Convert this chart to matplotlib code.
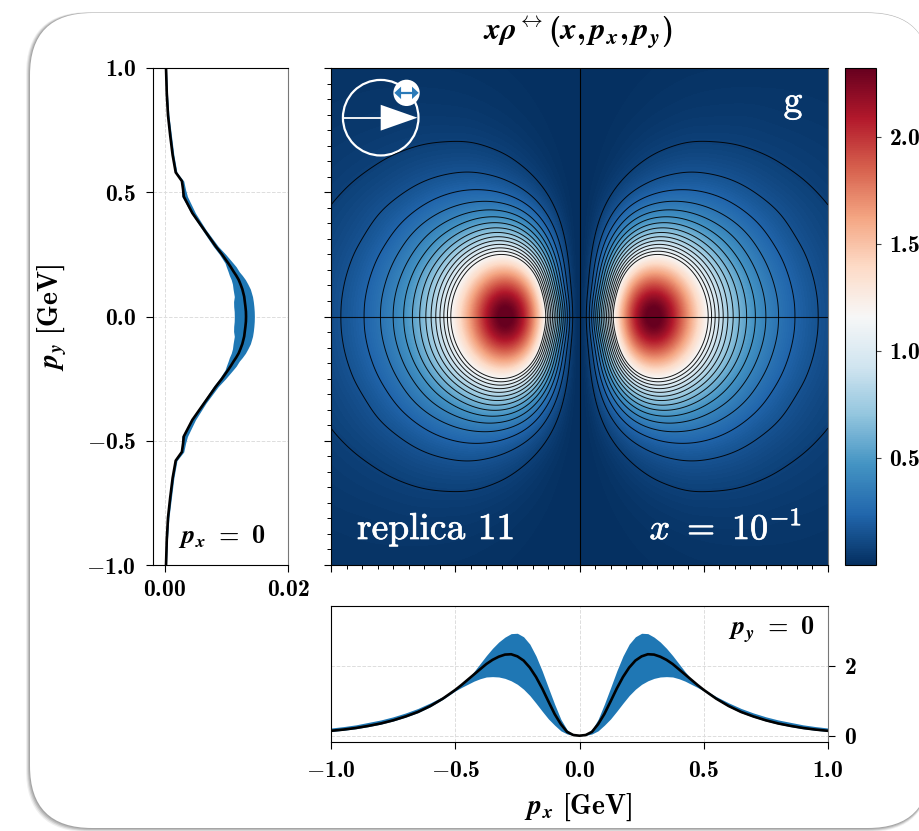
import numpy as np
import matplotlib
matplotlib.use("Agg")
import matplotlib.pyplot as plt
import matplotlib.tri as mtri
import matplotlib.patheffects as pe
from matplotlib.patches import FancyBboxPatch, Circle, Polygon
from matplotlib.transforms import IdentityTransform
from matplotlib.ticker import FixedLocator, FixedFormatter
from matplotlib import cm, colors

plt.rcParams.update({
    "mathtext.fontset": "custom", "mathtext.rm": "cmb10", "mathtext.bf": "cmb10",
    "mathtext.it": "cmmi10", "mathtext.bfit": "STIXGeneral:italic:bold", "mathtext.sf": "cmr10",
    "mathtext.fallback": "cm", "font.family": ["cmb10", "DejaVu Serif"],
    "axes.unicode_minus": False, "axes.formatter.use_mathtext": True,
})

W, H = 919, 831

# ---- data ----
# heatmap estimates for the quadrant px >= 0, py >= 0 (column px = 0 is zero)
grid_px = [0.03, 0.06, 0.10, 0.15, 0.20, 0.25, 0.30, 0.35, 0.40, 0.50, 0.60, 0.70, 0.80, 0.90, 1.00]
grid_py = [0.00, 0.05, 0.10, 0.15, 0.20, 0.25, 0.30, 0.40, 0.50, 0.60, 0.70, 0.80, 0.90, 1.00]
rho_py000 = [.108, .41, .82, 1.38, 1.95, 2.33, 2.45, 2.30, 1.97, 1.28, .76, .48, .31, .20, .13]
rho_py005 = [.103, .354, .75, 1.32, 1.88, 2.25, 2.38, 2.24, 1.92, 1.25, .745, .473, .308, .20, .13]
rho_py010 = [.071, .265, .625, 1.19, 1.72, 2.03, 2.14, 2.03, 1.77, 1.17, .715, .456, .296, .193, .126]
rho_py015 = [.054, .205, .52, 1.02, 1.47, 1.75, 1.85, 1.76, 1.56, 1.05, .66, .425, .28, .185, .122]
rho_py020 = [.042, .163, .418, .82, 1.18, 1.43, 1.51, 1.46, 1.32, .91, .59, .39, .26, .172, .115]
rho_py025 = [.032, .124, .316, .62, .90, 1.10, 1.18, 1.155, 1.05, .755, .51, .35, .237, .16, .11]
rho_py030 = [.023, .089, .23, .45, .66, .81, .885, .88, .81, .61, .44, .31, .21, .144, .10]
rho_py040 = [.011, .043, .108, .215, .324, .41, .457, .47, .455, .385, .305, .226, .164, .117, .086]
rho_py050 = [.0045, .018, .047, .094, .145, .188, .22, .24, .246, .233, .198, .156, .119, .09, .068]
rho_py060 = [.002, .007, .02, .041, .066, .089, .11, .124, .135, .137, .124, .104, .083, .067, .054]
rho_py070 = [.001, .0035, .009, .02, .032, .045, .057, .066, .074, .079, .076, .068, .059, .05, .042]
rho_py080 = [.0008, .0017, .0046, .01, .016, .023, .03, .035, .041, .046, .047, .046, .04, .036, .032]
rho_py090 = [.0003, .0009, .0024, .005, .009, .012, .017, .02, .023, .028, .03, .03, .029, .027, .024]
rho_py100 = [.0001, .0005, .0012, .0028, .0046, .007, .009, .012, .014, .017, .019, .02, .02, .02, .018]
rho_rows = [rho_py000, rho_py005, rho_py010, rho_py015, rho_py020, rho_py025, rho_py030,
            rho_py040, rho_py050, rho_py060, rho_py070, rho_py080, rho_py090, rho_py100]

# bottom panel, py = 0 (mirrored about px = 0)
cut_px = [0, .025, .05, .075, .1, .125, .15, .175, .2, .225, .25, .275, .3, .325, .35, .375, .4, .425,
          .45, .475, .5, .55, .6, .65, .7, .75, .8, .85, .9, .95, 1.0]
cut_mid = [0, .02, .11, .33, .62, .98, 1.35, 1.68, 1.95, 2.15, 2.27, 2.33, 2.32, 2.26, 2.17, 2.05, 1.9, 1.75,
           1.6, 1.45, 1.31, 1.06, .85, .68, .55, .44, .35, .28, .22, .175, .14]
cut_high = [0, .03, .17, .47, .9, 1.37, 1.85, 2.28, 2.62, 2.83, 2.93, 2.92, 2.82, 2.68, 2.5, 2.29, 2.06, 1.83,
            1.62, 1.46, 1.33, 1.12, .94, .78, .65, .54, .45, .38, .31, .26, .22]
cut_low = [0, .01, .05, .14, .3, .48, .7, .93, 1.15, 1.33, 1.47, 1.57, 1.64, 1.68, 1.69, 1.68, 1.63, 1.56,
           1.47, 1.38, 1.28, 1.04, .83, .66, .53, .42, .33, .26, .2, .155, .12]

# left panel, px = 0 (mirrored about py = 0)
side_py = [0, .02, .04, .06, .08, .11, .13, .148, .165, .18, .2, .215, .25, .282, .349, .416, .483, .51, .545,
           .58, .65, .73, .81, .90, 1.0]
side_mid = [.0132, .01318, .0131, .0130, .0129, .0126, .0123, .0120, .0116, .0112, .0107, .0103, .0093, .0083,
            .0064, .0045, .0031, .0030, .0028, .0018, .0013, .0009, .00055, .00035, .00023]
side_high = [.01455, .01453, .01447, .01438, .01425, .0139, .0135, .0131, .0126, .0121, .0116, .0111, .0099, .0087,
             .0067, .0050, .0037, .0034, .0031, .0020, .0015, .0011, .0007, .00045, .0003]
side_low = [.0113, .01128, .0112, .01118, .0113, .0111, .0110, .0108, .0105, .0103, .0100, .0098, .0089, .0079,
            .0061, .0043, .0028, .0028, .0027, .0017, .0012, .0008, .0005, .0003, .0002]

major_ticks = [-1.0, -0.5, 0.0, 0.5, 1.0]
major_labels = [r"$\mathbf{-1.0}$", r"$\mathbf{-0.5}$", r"$\mathbf{0.0}$", r"$\mathbf{0.5}$", r"$\mathbf{1.0}$"]
side_ticks = [0.0, 0.02]
side_labels = [r"$\mathbf{0.00}$", r"$\mathbf{0.02}$"]
cut_ticks = [0, 2]
cut_labels = [r"$\mathbf{0}$", r"$\mathbf{2}$"]
cbar_ticks = [0.5, 1.0, 1.5, 2.0]
cbar_labels = [r"$\mathbf{0.5}$", r"$\mathbf{1.0}$", r"$\mathbf{1.5}$", r"$\mathbf{2.0}$"]
vmin, vmax = 0.0, 2.32

# ---- helpers ----
fig = plt.figure(figsize=(W / 100, H / 100), dpi=100, facecolor="white")

def box(x0, y0, x1, y1):
    return [x0 / W, 1 - y1 / H, (x1 - x0) / W, (y1 - y0) / H]

def fx(x):
    return x / W

def fy(y):
    return 1 - y / H

# card with shadow, heavier towards the lower left
for grow, alpha in [(4, .12), (3, .20), (2, .30), (1, .38)]:
    fig.patches.append(FancyBboxPatch((30 - grow, 3 - grow), 900 + grow, 815 + 1.2 * grow,
                                      boxstyle="round,pad=0,rounding_size=62", transform=IdentityTransform(),
                                      fc="#808080", ec="none", alpha=alpha, zorder=-3, figure=fig))
fig.patches.append(FancyBboxPatch((30, 3), 900, 815, boxstyle="round,pad=0,rounding_size=62",
                                  transform=IdentityTransform(), fc="white", ec="none", zorder=-2, figure=fig))

# ---- axes ----
ax = fig.add_axes(box(331, 68, 828, 565))
axl = fig.add_axes(box(153, 68, 288, 565))
axb = fig.add_axes(box(331, 606, 828, 742))
cax = fig.add_axes(box(845, 68, 876, 565))

# heatmap: the table is refined on its signed square root, which passes smoothly
# through px = 0, and lightly smoothed so that the hand-read values do not kink the contours
q_px = np.array([0.0] + grid_px)
q_py = np.array(grid_py)
q = np.sqrt(np.hstack([np.zeros((len(q_py), 1)), np.array(rho_rows)]))
full_px = np.concatenate([-q_px[:0:-1], q_px])
full_py = np.concatenate([-q_py[:0:-1], q_py])
full = np.hstack([-q[:, :0:-1], q])
full = np.vstack([full[:0:-1], full])
PX, PY = np.meshgrid(full_px, full_py)
tri = mtri.Triangulation(PX.ravel(), PY.ravel())
interp = mtri.CubicTriInterpolator(tri, full.ravel(), kind="min_E")
fine = np.linspace(-1, 1, 497)
FX, FY = np.meshgrid(fine, fine)
S = np.ma.filled(interp(FX, FY), 0.0)

half = 27
kernel = np.exp(-0.5 * (np.arange(-half, half + 1) / 8.5) ** 2)
kernel /= kernel.sum()
pad = np.pad(S, half, mode="reflect", reflect_type="odd")
pad = np.apply_along_axis(lambda v: np.convolve(v, kernel, mode="same"), 0, pad)
pad = np.apply_along_axis(lambda v: np.convolve(v, kernel, mode="same"), 1, pad)
Z = pad[half:-half, half:-half] ** 2

norm = colors.Normalize(vmin, vmax)
ax.imshow(Z, origin="lower", extent=(-1, 1, -1, 1), cmap="RdBu_r", norm=norm, aspect="auto", interpolation="bilinear")
levels = np.linspace(vmin, vmax, 31)[1:16]
ax.contour(FX, FY, Z, levels=levels, colors="black", linewidths=0.7, alpha=0.9)
ax.axhline(0, color="black", lw=0.8, alpha=0.85)
ax.axvline(0, color="black", lw=0.8)
ax.set_xlim(-1, 1)
ax.set_ylim(-1, 1)
minor = np.arange(-1, 1.0001, 0.0625)
ax.xaxis.set_major_locator(FixedLocator(major_ticks))
ax.yaxis.set_major_locator(FixedLocator(major_ticks))
ax.xaxis.set_minor_locator(FixedLocator(minor))
ax.yaxis.set_minor_locator(FixedLocator(minor))
ax.set_xticklabels([])
ax.set_yticklabels([])
ax.tick_params(which="major", length=5.2, width=0.8)
ax.tick_params(which="minor", length=2.6, width=0.7)
ax.spines["right"].set_color("#777777")

# polarisation icon
ax.add_patch(Circle((-0.80, 0.80), 0.152, fc="none", ec="white", lw=1.6))
ax.plot([-0.952, -0.80], [0.80, 0.80], color="white", lw=1.3)
ax.add_patch(Polygon([(-0.80, 0.852), (-0.80, 0.748), (-0.652, 0.80)], fc="white", ec="none"))
ax.add_patch(Circle((-0.696, 0.90), 0.053, fc="white", ec="none", zorder=4))
ax.plot([-0.73, -0.662], [0.90, 0.90], color="#2a7ab8", lw=1.6, zorder=5)
ax.add_patch(Polygon([(-0.745, 0.90), (-0.718, 0.925), (-0.718, 0.875)], fc="#2a7ab8", ec="none", zorder=5))
ax.add_patch(Polygon([(-0.647, 0.90), (-0.674, 0.925), (-0.674, 0.875)], fc="#2a7ab8", ec="none", zorder=5))

# left panel
s_py = np.array(side_py)
yy = np.concatenate([-s_py[:0:-1], s_py])
def mirror(v):
    v = np.array(v)
    return np.concatenate([v[:0:-1], v])
axl.fill_betweenx(yy, mirror(side_low), mirror(side_high), color="#1f77b4", lw=0)
axl.plot(mirror(side_mid), yy, color="black", lw=1.9)
axl.set_xlim(-0.00188, 0.02)
axl.set_ylim(-1, 1)
axl.xaxis.set_major_locator(FixedLocator(side_ticks))
axl.xaxis.set_major_formatter(FixedFormatter(side_labels))
axl.yaxis.set_major_locator(FixedLocator(major_ticks))
axl.yaxis.set_major_formatter(FixedFormatter(major_labels))
axl.tick_params(length=5.2, width=0.8, labelsize=17)
axl.tick_params(axis="x", pad=5)
axl.tick_params(axis="y", pad=7)
axl.grid(True, ls="--", color="#dddddd", lw=0.7)
axl.set_axisbelow(True)
axl.spines["right"].set_color("#777777")

# bottom panel
c_px = np.array(cut_px)
xx = np.concatenate([-c_px[:0:-1], c_px])
axb.fill_between(xx, mirror(cut_low), mirror(cut_high), color="#1f77b4", lw=0)
axb.plot(xx, mirror(cut_mid), color="black", lw=1.9)
axb.set_xlim(-1, 1)
axb.set_ylim(-0.18, 3.71)
axb.xaxis.set_major_locator(FixedLocator(major_ticks))
axb.xaxis.set_major_formatter(FixedFormatter(major_labels))
axb.yaxis.set_major_locator(FixedLocator(cut_ticks))
axb.yaxis.set_major_formatter(FixedFormatter(cut_labels))
axb.yaxis.tick_right()
axb.tick_params(length=5.2, width=0.8, labelsize=17)
axb.tick_params(axis="x", pad=8)
axb.tick_params(axis="y", pad=6)
axb.grid(True, ls="--", color="#dddddd", lw=0.7)
axb.set_axisbelow(True)
axb.spines["right"].set_color("#777777")

# colour bar
sm = cm.ScalarMappable(norm=norm, cmap="RdBu_r")
cb = fig.colorbar(sm, cax=cax)
cb.set_ticks(cbar_ticks)
cb.set_ticklabels(cbar_labels)
cb.ax.tick_params(length=3.5, width=0.8, labelsize=17, pad=6, color="#444444")
cb.outline.set_linewidth(0.8)

# ---- text ----
stroke = [pe.withStroke(linewidth=0.5, foreground="white")]
px_bold = r"\boldsymbol{p}_{\boldsymbol{x}}"
py_bold = r"\boldsymbol{p}_{\boldsymbol{y}}"
fig.text(fx(578), fy(33), r"$\boldsymbol{x\rho}^{\leftrightarrow}\mathbf{(}\boldsymbol{x}\mathbf{,}\," + px_bold + r"\mathbf{,}\," + py_bold + r"\mathbf{)}$",
         ha="center", va="center", fontsize=22.5)
fig.text(fx(52), fy(317), "$" + py_bold + r"\ \mathbf{[GeV]}$", rotation=90, ha="center", va="center", fontsize=20)
fig.text(fx(578), fy(807), "$" + px_bold + r"\ \mathbf{[GeV]}$", ha="center", va="center", fontsize=20)
fig.text(fx(266), fy(536), "$" + px_bold + r"\ \mathbf{=}\ \mathbf{0}$", ha="right", va="center", fontsize=19)
fig.text(fx(815), fy(630), "$" + py_bold + r"\ \mathbf{=}\ \mathbf{0}$", ha="right", va="center", fontsize=19)
fig.text(fx(357), fy(539), "replica 11", color="white", ha="left", va="baseline", fontsize=27, family="cmr10",
         path_effects=stroke)
fig.text(fx(802), fy(539), r"$\mathit{x}\ \mathsf{=}\ \mathsf{10}^{\mathsf{-1}}$", color="white", ha="right", va="baseline",
         fontsize=26, path_effects=stroke)
fig.text(fx(793), fy(112), "g", color="white", ha="center", va="baseline", fontsize=27, family="cmr10",
         path_effects=stroke)

fig.savefig("out.png", dpi=100)
